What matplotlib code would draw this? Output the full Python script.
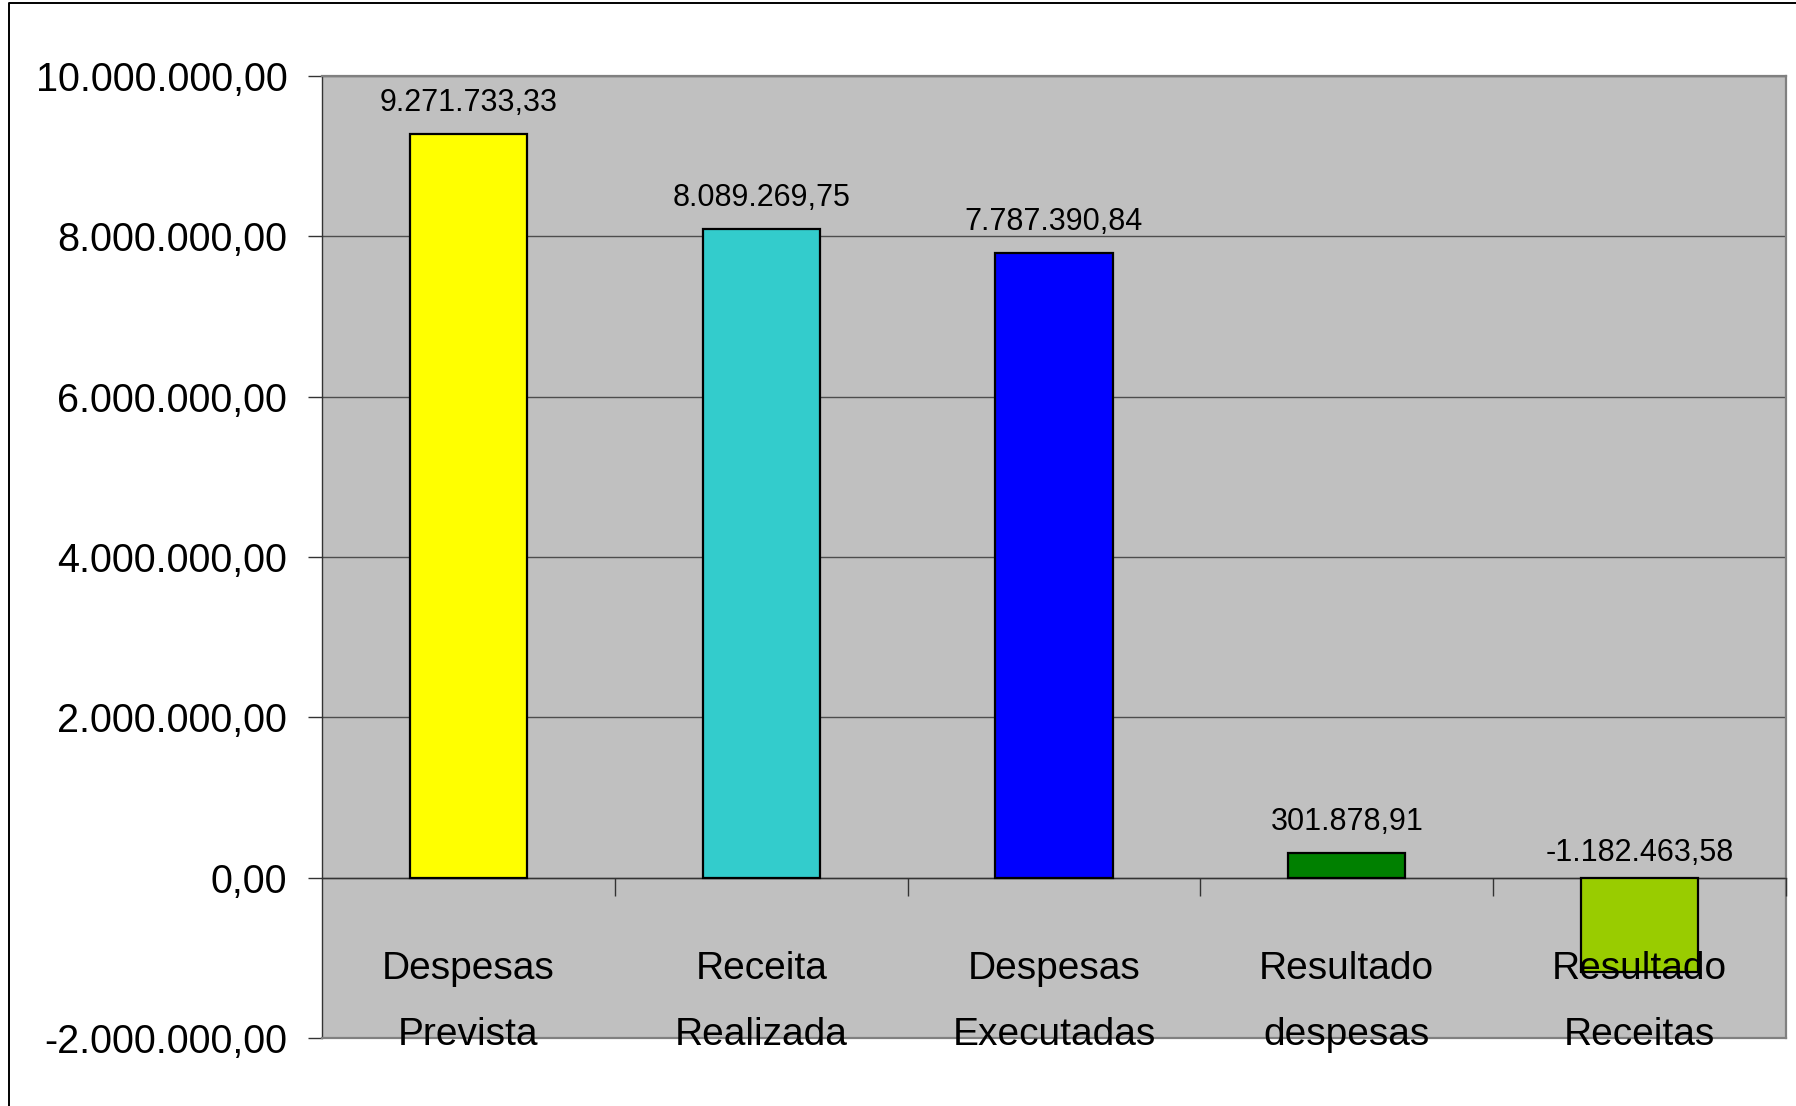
import matplotlib
matplotlib.use("Agg")
import matplotlib.pyplot as plt
from matplotlib import font_manager
from matplotlib.lines import Line2D
from matplotlib.ticker import FuncFormatter, FixedLocator

# ---- data ----
categories = ["Despesas\nPrevista", "Receita\nRealizada", "Despesas\nExecutadas",
              "Resultado\ndespesas", "Resultado\nReceitas"]
values = [9271733.33, 8089269.75, 7787390.84, 301878.91, -1182463.58]
bar_colors = ["#FFFF00", "#33CCCC", "#0000FF", "#008000", "#99CC00"]
y_ticks = [-2000000, 0, 2000000, 4000000, 6000000, 8000000, 10000000]

# ---- font ----
family = "DejaVu Sans"
narrow = False
for cand in ["Liberation Sans Narrow", "Arial Narrow", "Liberation Sans", "Arial"]:
    try:
        font_manager.findfont(font_manager.FontProperties(family=cand), fallback_to_default=False)
        family = cand
        narrow = "Narrow" in cand
        break
    except Exception:
        pass
plt.rcParams["font.family"] = family
k = 1.2 if narrow else 1.0  # size boost if a narrow face is available


def br(v):
    s = f"{v:,.2f}"
    return s.replace(",", "X").replace(".", ",").replace("X", ".")


W, H = 1796, 1106
fig = plt.figure(figsize=(W / 100, H / 100), dpi=100)
fig.patch.set_facecolor("white")
ax = fig.add_axes([322 / W, 1 - 1038 / H, (1786 - 322) / W, (1038 - 76) / H])
ax.set_facecolor("#C0C0C0")

x = list(range(len(categories)))
ax.bar(x, values, width=0.4, color=bar_colors, edgecolor="black", linewidth=1.6, zorder=3)

ax.set_xlim(-0.5, len(categories) - 0.5)
ax.set_ylim(-2000000, 10000000)

# gridlines / y axis
ax.set_yticks(y_ticks)
ax.yaxis.grid(True, color="#4d4d4d", linewidth=1.0, zorder=1)
ax.set_axisbelow(True)
ax.xaxis.set_zorder(4)  # category labels drawn over the bars and border
ax.yaxis.set_major_formatter(FuncFormatter(lambda v, p: br(v)))
ax.tick_params(axis="y", direction="out", length=10, width=1.0, color="#333333",
               labelsize=28.5 * k, pad=15)

# spines
for s in ["top", "right"]:
    ax.spines[s].set_color("#808080")
    ax.spines[s].set_linewidth(1.6)
ax.spines["left"].set_color("#333333")
ax.spines["left"].set_linewidth(1.0)
ax.spines["bottom"].set_position(("data", 0))
ax.spines["bottom"].set_color("#333333")
ax.spines["bottom"].set_linewidth(1.0)
ax.plot([0, 1], [0, 0], transform=ax.transAxes, color="#808080", linewidth=1.6,
        clip_on=False, zorder=3.5)

# x ticks: labels at centers, tick marks at category boundaries
ax.set_xticks(x)
ax.set_xticklabels(categories, linespacing=2.05)
ax.tick_params(axis="x", which="major", length=0, labelsize=28 * k, pad=53)
ax.xaxis.set_minor_locator(FixedLocator([i + 0.5 for i in range(len(categories))]))
ax.tick_params(axis="x", which="minor", direction="out", length=13, width=1.0, color="#333333")

# value labels
for xi, v in zip(x, values):
    off = 17 if v >= 0 else 12
    ax.annotate(br(v), (xi, max(v, 0)), xytext=(0, off), textcoords="offset points",
                ha="center", va="baseline", fontsize=22 * k, zorder=6)

# outer chart border (left and top)
fig.add_artist(Line2D([8.5 / W, 8.5 / W, 1.0], [0, 1 - 2.5 / H, 1 - 2.5 / H],
                      transform=fig.transFigure, color="black", linewidth=1.4))

fig.savefig("out.png", dpi=100)
